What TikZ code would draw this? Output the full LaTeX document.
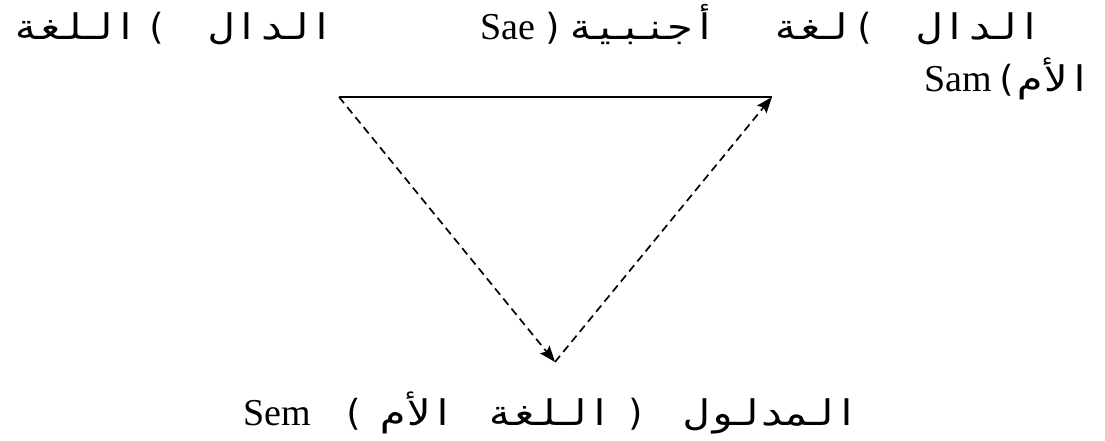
\documentclass[tikz,border=0pt]{standalone}
\usepackage{fontspec}
\usepackage{graphicx}
\setmainfont{Liberation Serif}
\newfontfamily\arabicfont[Script=Arabic]{DejaVu Sans Mono}
\newfontfamily\parfont{DejaVu Sans Mono}
\TeXXeTstate=1
\usetikzlibrary{arrows.meta}
\newcommand\artext[1]{\scalebox{1}[0.85]{\beginR #1\endR}}
\begin{document}
\begin{tikzpicture}[x=1pt,y=-1pt,
  ar/.style={inner sep=0pt,anchor=base,font=\arabicfont\fontsize{41.5}{44}\selectfont},
  pa/.style={inner sep=0pt,anchor=base,font=\parfont\fontsize{36}{40}\selectfont},
  la/.style={inner sep=0pt,anchor=base,font=\rmfamily\fontsize{38}{40}\selectfont},
  edge/.style={line width=1.7pt},
  dedge/.style={line width=1.7pt,dash pattern=on 8pt off 5pt,-{Stealth[length=16pt,width=12pt,inset=2.5pt]}}]
\useasboundingbox (0,0) rectangle (1105,441);
% top-left label
\node[ar] (tlA) at (76,40) {\artext{اللغة}};
\node[pa] (tlP) at (156,40) {(};
\node[ar] (tlB) at (272,40) {\artext{الدال}};
% top-right label
\node[la] (trS) at (508,40) {Sae};
\node[pa] (trP1) at (553,40) {)};
\node[ar] (trA) at (643,40) {\artext{أجنبية}};
\node[ar] (trB) at (811,40) {\artext{لغة}};
\node[pa] (trP2) at (864,40) {(};
\node[ar] (trC) at (980,40) {\artext{الدال}};
% second line
\node[la] (t2S) at (958,92) {Sam};
\node[pa] (t2P) at (1006,92) {(};
\node[ar] (t2A) at (1055,92) {\artext{الأم}};
% bottom label
\node[la] (bS) at (277,425) {Sem};
\node[pa] (bP1) at (353,425) {(};
\node[ar] (bA) at (418,425) {\artext{الأم}};
\node[ar] (bB) at (550,425) {\artext{اللغة}};
\node[pa] (bP2) at (636,425) {)};
\node[ar] (bC) at (772,425) {\artext{المدلول}};
% triangle
\coordinate (A) at (339,97);
\coordinate (B) at (772,97);
\coordinate (C) at (555,362);
\draw[edge] (A) -- (B);
\draw[dedge] (A) -- (C);
\draw[dedge] (C) -- (B);
\end{tikzpicture}
\end{document}
